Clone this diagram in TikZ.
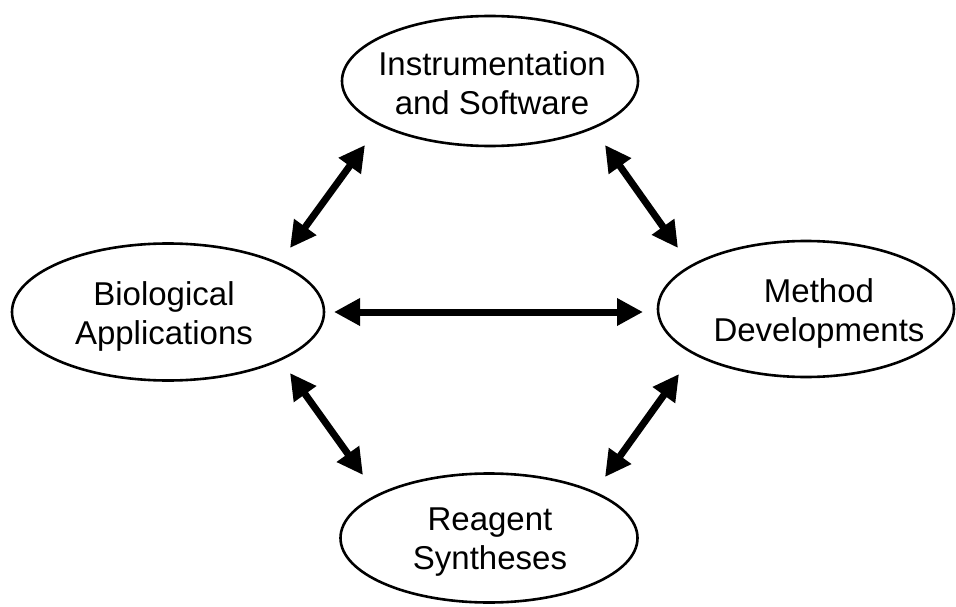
\documentclass[tikz,border=0pt]{standalone}
\usepackage{fontspec}
\setmainfont{Liberation Sans}
\usetikzlibrary{shapes.geometric,arrows.meta}
\tikzset{
  oval/.style={draw=black, line width=2.6pt, ellipse, inner sep=0pt, fill=none},
  lbl/.style={align=center, inner sep=0pt, font=\fontsize{33}{39}\selectfont},
  dbl/.style={line width=7pt, {Triangle[length=26pt,width=26pt]}-{Triangle[length=26pt,width=26pt]}}
}
\begin{document}
\begin{tikzpicture}[x=1pt,y=-1pt]
\useasboundingbox (0,0) rectangle (956,607);
\fill[white] (0,0) rectangle (956,607);
% ellipses
\node[oval, minimum width=296pt, minimum height=130pt] (ins) at (490,81) {};
\node[oval, minimum width=312pt, minimum height=137pt] (bio) at (168,312) {};
\node[oval, minimum width=296pt, minimum height=136pt] (met) at (806,309) {};
\node[oval, minimum width=297pt, minimum height=129pt] (rea) at (489,538) {};
% texts
\node[lbl] (inst) at (492,83) {Instrumentation\\and Software};
\node[lbl] (biot) at (164,316) {Biological\\Applications};
\node[lbl] (mett) at (819,313) {Method\\Developments};
\node[lbl] (reat) at (490,542) {Reagent\\Syntheses};
% arrow ends
\coordinate (tl1) at (365,145); \coordinate (tl2) at (290,248);
\coordinate (tr1) at (605,145); \coordinate (tr2) at (678,248);
\coordinate (h1) at (334,312);  \coordinate (h2) at (643,312);
\coordinate (bl1) at (290,373); \coordinate (bl2) at (363,475);
\coordinate (br1) at (679,374); \coordinate (br2) at (605,477);
\draw[dbl] (tl1) -- (tl2);
\draw[dbl] (tr1) -- (tr2);
\draw[dbl] (h1) -- (h2);
\draw[dbl] (bl1) -- (bl2);
\draw[dbl] (br1) -- (br2);
\end{tikzpicture}
\end{document}
